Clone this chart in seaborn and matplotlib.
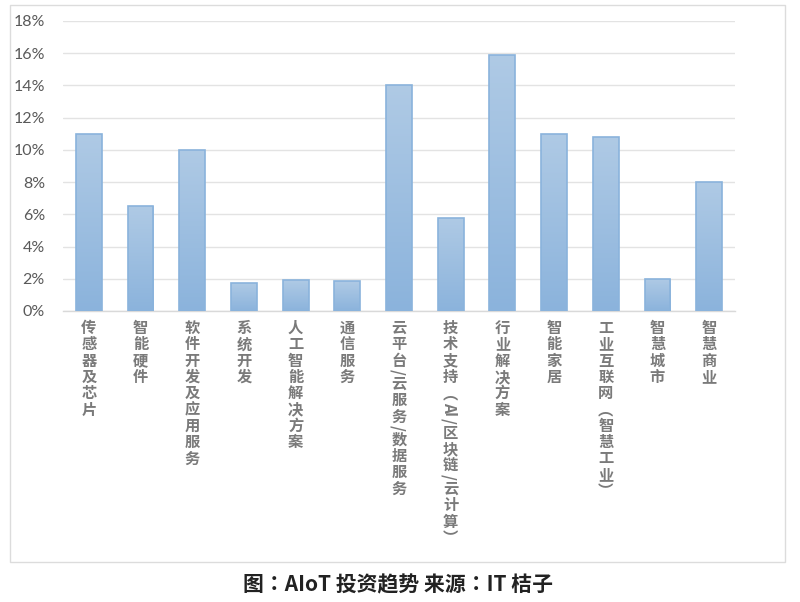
import matplotlib
matplotlib.use("Agg")
import matplotlib.pyplot as plt
import seaborn as sns
import numpy as np
import pandas as pd
from matplotlib.colors import LinearSegmentedColormap
from matplotlib.patches import Rectangle

categories = ["传感器及芯片", "智能硬件", "软件开发及应用服务", "系统开发",
              "人工智能解决方案", "通信服务", "云平台/云服务/数据服务",
              "技术支持（AI/区块链/云计算）", "行业解决方案", "智能家居",
              "工业互联网（智慧工业）", "智慧城市", "智慧商业"]
values = [11.0, 6.5, 10.0, 1.75, 1.9, 1.85, 14.0, 5.8, 15.9, 11.0, 10.8, 2.0, 8.0]
y_ticks = [0, 2, 4, 6, 8, 10, 12, 14, 16, 18]
y_tick_labels = [f"{t}%" for t in y_ticks]
caption = "图：AIoT 投资趋势 来源：IT 桔子"

sns.set_theme(style="white")
plt.rcParams['font.family'] = ['Noto Sans CJK SC', 'DejaVu Sans']

fig = plt.figure(figsize=(8, 6.02), dpi=100)
fig.patch.set_facecolor("white")
ax = fig.add_axes([63/800, 1-311/602, (735-63)/800, (311-21)/602])

df = pd.DataFrame({"cat": categories, "val": values})
sns.barplot(data=df, x="cat", y="val", ax=ax, color="#9dbfe1", width=0.5,
            edgecolor="#8ab3dc", linewidth=1.2, saturation=1, zorder=3)

cmap = LinearSegmentedColormap.from_list("g", ["#8bb3dc", "#afcae5"])
grad = np.linspace(0, 1, 256).reshape(-1, 1)
for p in list(ax.patches):
    x, w, h = p.get_x(), p.get_width(), p.get_height()
    im = ax.imshow(grad, extent=[x, x + w, 0, h], origin='lower', aspect='auto',
                   cmap=cmap, zorder=2.9, interpolation='bilinear')
    im.set_clip_path(p)
    p.set_facecolor('none')

ax.set_xlim(-0.5, 12.5)
ax.set_ylim(0, 18)
ax.set_aspect('auto')
ax.set_yticks(y_ticks)
ax.set_yticklabels(y_tick_labels, family='Lato', fontsize=11.5, color='#595959')
ax.yaxis.grid(True, color="#e3e3e3", lw=1)
ax.set_axisbelow(True)
for s in ["left", "right", "top"]:
    ax.spines[s].set_visible(False)
ax.spines["bottom"].set_color("#d9d9d9")
ax.spines["bottom"].set_linewidth(1)
ax.tick_params(axis='y', length=0, pad=13)
ax.tick_params(axis='x', length=0)
ax.set_xticks(range(len(categories)))
ax.set_xticklabels([])
ax.set_xlabel('')
ax.set_ylabel('')

renderer = fig.canvas.get_renderer()
ROT = set("AI/")
VERT = {"（": "︵", "）": "︶"}
step = 16.3
for i, lab in enumerate(categories):
    y = -9
    for ch in lab:
        rot = ch in ROT
        glyph = VERT.get(ch, ch)
        t = ax.annotate(glyph, xy=(i, 0), xycoords='data',
                        xytext=(-2 if rot else 0, y),
                        textcoords='offset pixels', ha='center', va='top',
                        rotation=-90 if rot else 0, fontsize=11, color='#7a7a7a',
                        weight='bold', annotation_clip=False)
        if rot:
            bb = t.get_window_extent(renderer)
            y -= bb.height + 1
        else:
            y -= step

fig.add_artist(Rectangle((10/800, 1-562/602), 775/800, 557/602, transform=fig.transFigure,
                         fill=False, ec="#dcdcdc", lw=1))
fig.text(398/800, 1-585/602, caption, ha='center', va='center', fontsize=15,
         weight='bold', color='#222222', family=['Noto Sans CJK TC', 'DejaVu Sans'])

fig.savefig("out.png", dpi=100)
